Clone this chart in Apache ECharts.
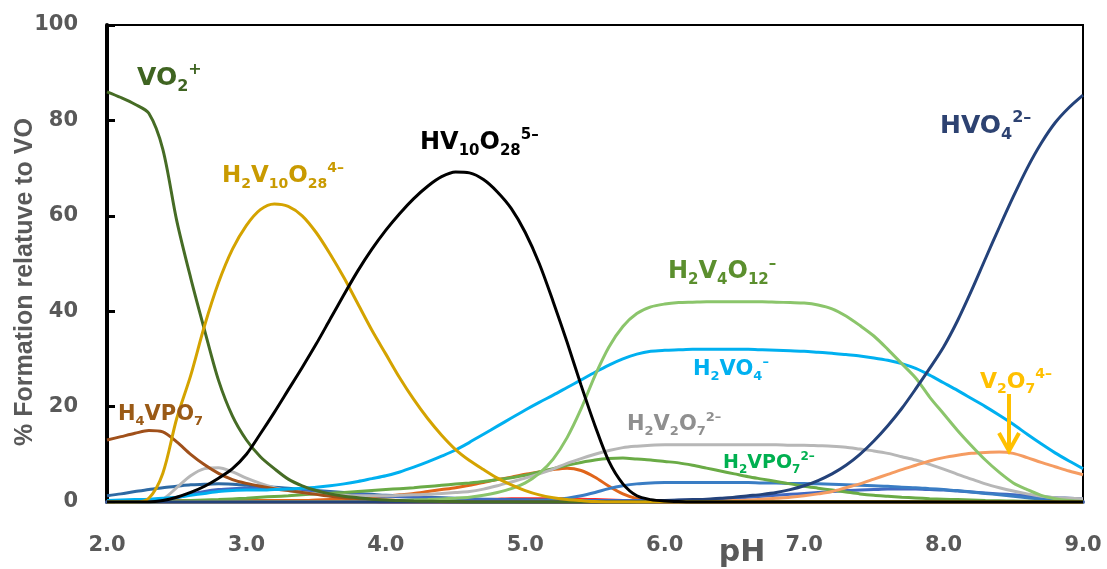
<!DOCTYPE html>
<html>
<head>
<meta charset="utf-8">
<script src="https://cdn.jsdelivr.net/npm/echarts@6/dist/echarts.min.js"></script>
<style>
  html, body { margin: 0; padding: 0; background: #fff; }
  #chart { width: 1107px; height: 569px; }
</style>
</head>
<body>
<div id="chart"></div>
<script>
// pH grid shared by all species
const ph = [
  2.0, 2.1, 2.2, 2.3, 2.4, 2.5, 2.6, 2.7, 2.8, 2.9,
  3.0, 3.1, 3.2, 3.3, 3.4, 3.5, 3.6, 3.7, 3.8, 3.9,
  4.0, 4.1, 4.2, 4.3, 4.4, 4.5, 4.6, 4.7, 4.8, 4.9,
  5.0, 5.1, 5.2, 5.3, 5.4, 5.5, 5.6, 5.7, 5.8, 5.9,
  6.0, 6.1, 6.2, 6.3, 6.4, 6.5, 6.6, 6.7, 6.8, 6.9,
  7.0, 7.1, 7.2, 7.3, 7.4, 7.5, 7.6, 7.7, 7.8, 7.9,
  8.0, 8.1, 8.2, 8.3, 8.4, 8.5, 8.6, 8.7, 8.8, 8.9,
  9.0
];

const xTicks = ['2.0', '3.0', '4.0', '5.0', '6.0', '7.0', '8.0', '9.0'];
const yTicks = [0, 20, 40, 60, 80, 100];

// % formation, one value per pH point
const vo2 = [
  86, 84.8, 83.4, 81.5, 74, 59, 47, 36, 25.5, 18,
  13, 9.5, 7, 4.8, 3.4, 2.4, 1.7, 1.2, 0.9, 0.6,
  0.4, 0.3, 0.2, 0.15, 0.1, 0.1, 0, 0, 0, 0,
  0, 0, 0, 0, 0, 0, 0, 0, 0, 0,
  0, 0, 0, 0, 0, 0, 0, 0, 0, 0,
  0, 0, 0, 0, 0, 0, 0, 0, 0, 0,
  0, 0, 0, 0, 0, 0, 0, 0, 0, 0,
  0
];
const h2v10o28 = [
  0, 0, 0, 0.8, 6, 17.5, 26.5, 37, 46, 53,
  58, 61.3, 62.5, 62, 60, 56.5, 52, 47, 41.5, 36,
  31, 26, 21.5, 17.5, 14, 11, 8.7, 6.8, 5, 3.6,
  2.4, 1.5, 0.9, 0.5, 0.3, 0.1, 0, 0, 0, 0,
  0, 0, 0, 0, 0, 0, 0, 0, 0, 0,
  0, 0, 0, 0, 0, 0, 0, 0, 0, 0,
  0, 0, 0, 0, 0, 0, 0, 0, 0, 0,
  0
];
const hv10o28 = [
  0, 0, 0, 0, 0.3, 1, 2, 3.3, 5, 7,
  10, 14.3, 18.8, 23.5, 28.2, 33.1, 38.3, 43.5, 48.5, 53,
  57, 60.5, 63.6, 66.2, 68.2, 69.2, 69, 67.6, 65, 61.5,
  56.5, 50, 42, 33.5, 24.5, 16, 8.5, 3.8, 1.3, 0.5,
  0.2, 0.1, 0, 0, 0, 0, 0, 0, 0, 0,
  0, 0, 0, 0, 0, 0, 0, 0, 0, 0,
  0, 0, 0, 0, 0, 0, 0, 0, 0, 0,
  0
];
const hvo4 = [
  0, 0, 0, 0, 0, 0, 0, 0, 0, 0,
  0, 0, 0, 0, 0, 0, 0, 0, 0, 0,
  0, 0, 0, 0, 0, 0, 0, 0, 0, 0,
  0, 0, 0, 0, 0, 0, 0, 0, 0.1, 0.2,
  0.3, 0.4, 0.5, 0.6, 0.8, 1.0, 1.3, 1.6, 2.0, 2.6,
  3.4, 4.5, 5.9, 7.7, 10, 12.8, 16, 19.6, 23.7, 28,
  32.5, 38, 44.3, 51, 57.6, 64, 70, 75.2, 79.5, 82.7,
  85.3
];
const h2v4o12 = [
  0, 0, 0, 0, 0, 0, 0, 0, 0, 0,
  0, 0, 0, 0, 0, 0, 0, 0, 0, 0,
  0.2, 0.3, 0.4, 0.5, 0.65, 0.8, 1.0, 1.4, 2.0, 2.8,
  4, 6, 9, 13.5, 19.5, 26.5, 32.5, 36.8, 39.5, 40.9,
  41.5, 41.8, 41.9, 42, 42, 42, 42, 42, 41.9, 41.8,
  41.7, 41.3, 40.5, 39, 37, 34.8, 32, 29, 26, 22,
  18.5, 15, 11.8, 8.8, 6.2, 4, 2.6, 1.4, 0.7, 0.3,
  0.1
];
const h2vo4 = [
  0.3, 0.4, 0.5, 0.6, 0.8, 1.0, 1.4, 1.8, 2.2, 2.4,
  2.5, 2.5, 2.6, 2.7, 2.9, 3.1, 3.4, 3.8, 4.3, 4.9,
  5.5, 6.3, 7.3, 8.4, 9.6, 10.9, 12.5, 14.2, 15.9, 17.6,
  19.3, 20.9, 22.4, 24, 25.6, 27.2, 28.7, 30, 31, 31.6,
  31.8, 31.9, 32, 32, 32, 32, 32, 31.9, 31.8, 31.7,
  31.6, 31.4, 31.2, 30.9, 30.6, 30.2, 29.7, 29, 28, 26.6,
  25, 23.4, 21.7, 20, 18.2, 16.3, 14.2, 12.2, 10.3, 8.6,
  7
];
const h4vpo7 = [
  13, 13.7, 14.4, 15, 14.7, 12.6, 10, 7.8, 6, 4.7,
  3.9, 3.3, 2.8, 2.4, 2, 1.6, 1.2, 0.9, 0.7, 0.5,
  0.4, 0.3, 0.2, 0.15, 0.1, 0, 0, 0, 0, 0,
  0, 0, 0, 0, 0, 0, 0, 0, 0, 0,
  0, 0, 0, 0, 0, 0, 0, 0, 0, 0,
  0, 0, 0, 0, 0, 0, 0, 0, 0, 0,
  0, 0, 0, 0, 0, 0, 0, 0, 0, 0,
  0
];
const h2v2o7 = [
  0, 0, 0, 0, 0.6, 3, 5.5, 7, 7.2, 6.3,
  5, 3.9, 3, 2.4, 2, 1.7, 1.5, 1.4, 1.3, 1.3,
  1.3, 1.4, 1.5, 1.6, 1.8, 2, 2.2, 2.7, 3.4, 4.2,
  5, 5.9, 6.9, 8.1, 9.1, 10, 10.8, 11.4, 11.7, 11.9,
  12, 12, 12, 12, 12, 12, 12, 12, 12, 11.9,
  11.9, 11.8, 11.7, 11.5, 11.1, 10.7, 10.2, 9.5, 8.8, 7.9,
  6.9, 5.8, 4.8, 3.8, 3, 2.3, 1.7, 1.2, 0.9, 0.8,
  0.7
];
const h2vpo7 = [
  0, 0, 0, 0, 0.1, 0.2, 0.3, 0.4, 0.5, 0.65,
  0.8, 1, 1.15, 1.3, 1.5, 1.7, 1.85, 2, 2.2, 2.4,
  2.6, 2.8, 3, 3.25, 3.5, 3.75, 4, 4.3, 4.7, 5.1,
  5.6, 6.3, 7, 7.7, 8.3, 8.8, 9.1, 9.2, 9.0, 8.8,
  8.5, 8.2, 7.7, 7.1, 6.5, 5.9, 5.3, 4.8, 4.3, 3.8,
  3.3, 2.9, 2.5, 2.1, 1.7, 1.4, 1.2, 1.0, 0.85, 0.7,
  0.6, 0.5, 0.4, 0.3, 0.25, 0.2, 0.15, 0.1, 0.1, 0.05,
  0
];
const orangeSp = [
  0.3, 0.3, 0.3, 0.3, 0.3, 0.3, 0.3, 0.3, 0.3, 0.3,
  0.3, 0.3, 0.3, 0.3, 0.3, 0.4, 0.5, 0.6, 0.8, 1.0,
  1.2, 1.5, 1.8, 2.2, 2.6, 3.0, 3.5, 4.1, 4.7, 5.2,
  5.8, 6.3, 6.8, 7.1, 6.6, 5.2, 3.3, 1.7, 0.7, 0.3,
  0.1, 0, 0, 0, 0, 0, 0, 0, 0, 0,
  0, 0, 0, 0, 0, 0, 0, 0, 0, 0,
  0, 0, 0, 0, 0, 0, 0, 0, 0, 0,
  0
];
const v2o7 = [
  0, 0, 0, 0, 0, 0, 0, 0, 0, 0,
  0, 0, 0, 0, 0, 0, 0, 0, 0, 0,
  0, 0, 0, 0, 0, 0, 0, 0, 0, 0,
  0, 0, 0, 0, 0, 0, 0, 0, 0, 0,
  0, 0.05, 0.1, 0.15, 0.2, 0.3, 0.4, 0.6, 0.8, 1.0,
  1.3, 1.7, 2.2, 3.0, 3.8, 4.8, 5.8, 6.8, 7.7, 8.6,
  9.3, 9.8, 10.2, 10.4, 10.5, 10.2, 9.3, 8.3, 7.4, 6.5,
  5.7
];
const blueA = [
  1.3, 1.7, 2.2, 2.6, 3.0, 3.3, 3.6, 3.7, 3.8, 3.7,
  3.5, 3.3, 3.1, 2.9, 2.6, 2.4, 2.2, 2.0, 1.8, 1.6,
  1.4, 1.3, 1.1, 1.0, 0.9, 0.8, 0.7, 0.6, 0.55, 0.5,
  0.45, 0.4, 0.35, 0.3, 0.3, 0.25, 0.2, 0.2, 0.15, 0.1,
  0.1, 0, 0, 0, 0, 0, 0, 0, 0, 0,
  0, 0, 0, 0, 0, 0, 0, 0, 0, 0,
  0, 0, 0, 0, 0, 0, 0, 0, 0, 0,
  0
];
const blueB = [
  0, 0, 0, 0.1, 0.4, 0.9, 1.6, 2.2, 2.6, 2.8,
  2.9, 2.9, 2.8, 2.6, 2.4, 2.2, 2.0, 1.8, 1.6, 1.4,
  1.2, 1.1, 1.0, 0.9, 0.8, 0.7, 0.6, 0.5, 0.5, 0.4,
  0.4, 0.35, 0.3, 0.3, 0.3, 0.3, 0.3, 0.3, 0.3, 0.3,
  0.3, 0.35, 0.4, 0.5, 0.6, 0.8, 1.0, 1.2, 1.4, 1.6,
  1.8, 2.0, 2.2, 2.4, 2.5, 2.6, 2.7, 2.7, 2.7, 2.6,
  2.5, 2.3, 2.1, 1.9, 1.7, 1.5, 1.3, 1.1, 0.9, 0.8,
  0.7
];
const blueC = [
  0, 0, 0, 0, 0, 0, 0, 0, 0, 0,
  0, 0, 0, 0, 0, 0, 0, 0, 0, 0,
  0, 0, 0, 0, 0, 0, 0, 0, 0, 0,
  0.2, 0.3, 0.5, 0.8, 1.3, 2.0, 2.8, 3.4, 3.8, 4.0,
  4.1, 4.1, 4.1, 4.1, 4.1, 4.1, 4.1, 4.0, 4.0, 3.9,
  3.9, 3.8, 3.7, 3.6, 3.5, 3.4, 3.3, 3.1, 3.0, 2.8,
  2.6, 2.4, 2.1, 1.8, 1.5, 1.2, 0.9, 0.6, 0.4, 0.3,
  0.2
];
const redSp = [
  0, 0, 0, 0, 0, 0, 0, 0, 0, 0,
  0, 0, 0, 0, 0, 0, 0, 0, 0, 0,
  0, 0, 0, 0, 0, 0.2, 0.4, 0.5, 0.6, 0.7,
  0.7, 0.7, 0.7, 0.7, 0.6, 0.5, 0.4, 0.3, 0.2, 0.1,
  0, 0, 0, 0, 0, 0, 0, 0, 0, 0,
  0, 0, 0, 0, 0, 0, 0, 0, 0, 0,
  0, 0, 0, 0, 0, 0, 0, 0, 0, 0,
  0
];

const chart = echarts.init(document.getElementById('chart'));

const toPoints = vals => ph.map((p, i) => [p, vals[i]]);

const curve = (name, vals, color) => ({
  name: name,
  type: 'line',
  smooth: 0.3,
  showSymbol: false,
  silent: true,
  lineStyle: { color: color, width: 3 },
  data: toPoints(vals)
});

const FONT = '"Liberation Sans", Arial, sans-serif';
const BOLD = '"DejaVu Sans", sans-serif';

// rich text label with sub/superscripts
const chemLabel = (text, x, y, size, color) => {
  const sub = Math.round(size * 0.62);
  const base = { fontFamily: BOLD, fontWeight: 'bold', fill: color };
  return {
    type: 'text',
    x: x,
    y: y,
    style: {
      text: text,
      verticalAlign: 'middle',
      align: 'left',
      rich: {
        n: Object.assign({ fontSize: size, lineHeight: Math.round(size * 1.3), verticalAlign: 'middle' }, base),
        s: Object.assign({ fontSize: sub, lineHeight: sub, verticalAlign: 'bottom' }, base),
        u: Object.assign({ fontSize: sub, lineHeight: sub, verticalAlign: 'top' }, base)
      }
    },
    z: 100
  };
};

const options = {
  animation: false,
  grid: {
    left: 107,
    right: 24,
    top: 25,
    bottom: 67,
    show: true,
    borderColor: '#000',
    borderWidth: 2,
    backgroundColor: '#fff'
  },
  xAxis: {
    type: 'value',
    min: 2,
    max: 9,
    interval: 1,
    axisLine: { show: true, onZero: false, lineStyle: { color: '#41609f', width: 4 } },
    axisTick: { show: false },
    splitLine: { show: false },
    axisLabel: {
      margin: 33,
      color: '#595959',
      fontSize: 21,
      fontWeight: 'bold',
      fontFamily: BOLD,
      formatter: v => xTicks[Math.round(v - 2)]
    }
  },
  yAxis: {
    type: 'value',
    min: 0,
    max: 100,
    interval: 20,
    axisLine: { show: true, lineStyle: { color: '#000', width: 4 } },
    axisTick: { show: true, inside: true, length: 8, lineStyle: { color: '#000', width: 3 } },
    splitLine: { show: false },
    axisLabel: {
      margin: 29,
      color: '#595959',
      fontSize: 21,
      fontWeight: 'bold',
      fontFamily: BOLD,
      formatter: v => (yTicks.indexOf(v) >= 0 ? String(v) : '')
    }
  },
  series: [
    curve('red', redSp, '#ff2a2a'),
    curve('orange', orangeSp, '#e0651a'),
    curve('blueA', blueA, '#2e6aa4'),
    curve('blueB', blueB, '#4169c2'),
    curve('blueC', blueC, '#3a7dc4'),
    curve('H2VPO7', h2vpo7, '#6aab46'),
    curve('H2V2O7', h2v2o7, '#b7b7b7'),
    curve('V2O7', v2o7, '#f59c62'),
    curve('H4VPO7', h4vpo7, '#a0501a'),
    curve('H2VO4', h2vo4, '#00b0f0'),
    curve('H2V4O12', h2v4o12, '#8bc56b'),
    curve('HVO4', hvo4, '#24427a'),
    curve('VO2', vo2, '#466c25'),
    curve('H2V10O28', h2v10o28, '#d4a300'),
    curve('HV10O28', hv10o28, '#000000')
  ],
  graphic: [
    chemLabel('{n|VO}{s|2}{u|+}', 137, 78, 25, '#3f6421'),
    chemLabel('{n|H}{s|2}{n|V}{s|10}{n|O}{s|28}{u|4–}', 222, 176, 23, '#c99a00'),
    chemLabel('{n|HV}{s|10}{n|O}{s|28}{u|5–}', 420, 143, 24, '#000000'),
    chemLabel('{n|HVO}{s|4}{u|2–}', 940, 126, 25, '#2d4271'),
    chemLabel('{n|H}{s|2}{n|V}{s|4}{n|O}{s|12}{u|–}', 668, 272, 24, '#5b8f2e'),
    chemLabel('{n|H}{s|2}{n|VO}{s|4}{u|–}', 693, 370, 21, '#00b0f0'),
    chemLabel('{n|V}{s|2}{n|O}{s|7}{u|4–}', 980, 382, 22, '#ffc000'),
    chemLabel('{n|H}{s|4}{n|VPO}{s|7}', 118, 415, 21, '#9a5a16'),
    chemLabel('{n|H}{s|2}{n|V}{s|2}{n|O}{s|7}{u|2–}', 627, 425, 21, '#8f8f8f'),
    chemLabel('{n|H}{s|2}{n|VPO}{s|7}{u|2–}', 723, 463, 19, '#00b050'),
    {
      type: 'line',
      shape: { x1: 1009, y1: 394, x2: 1009, y2: 448 },
      style: { stroke: '#ffc000', lineWidth: 4 },
      z: 100
    },
    {
      type: 'polyline',
      shape: { points: [[999, 433], [1009, 451], [1019, 433]] },
      style: { stroke: '#ffc000', lineWidth: 4, fill: null },
      z: 100
    },
    {
      type: 'text',
      x: 742,
      y: 553,
      style: {
        text: 'pH',
        fill: '#595959',
        fontSize: 30,
        fontWeight: 'bold',
        fontFamily: BOLD,
        align: 'center',
        verticalAlign: 'middle'
      }
    },
    {
      type: 'text',
      x: 25,
      y: 282,
      rotation: Math.PI / 2,
      style: {
        text: '% Formation relatuve to VO',
        fill: '#595959',
        fontSize: 25,
        fontWeight: 'bold',
        fontFamily: FONT,
        align: 'center',
        verticalAlign: 'middle'
      }
    }
  ]
};

chart.setOption(options);
</script>
</body>
</html>
